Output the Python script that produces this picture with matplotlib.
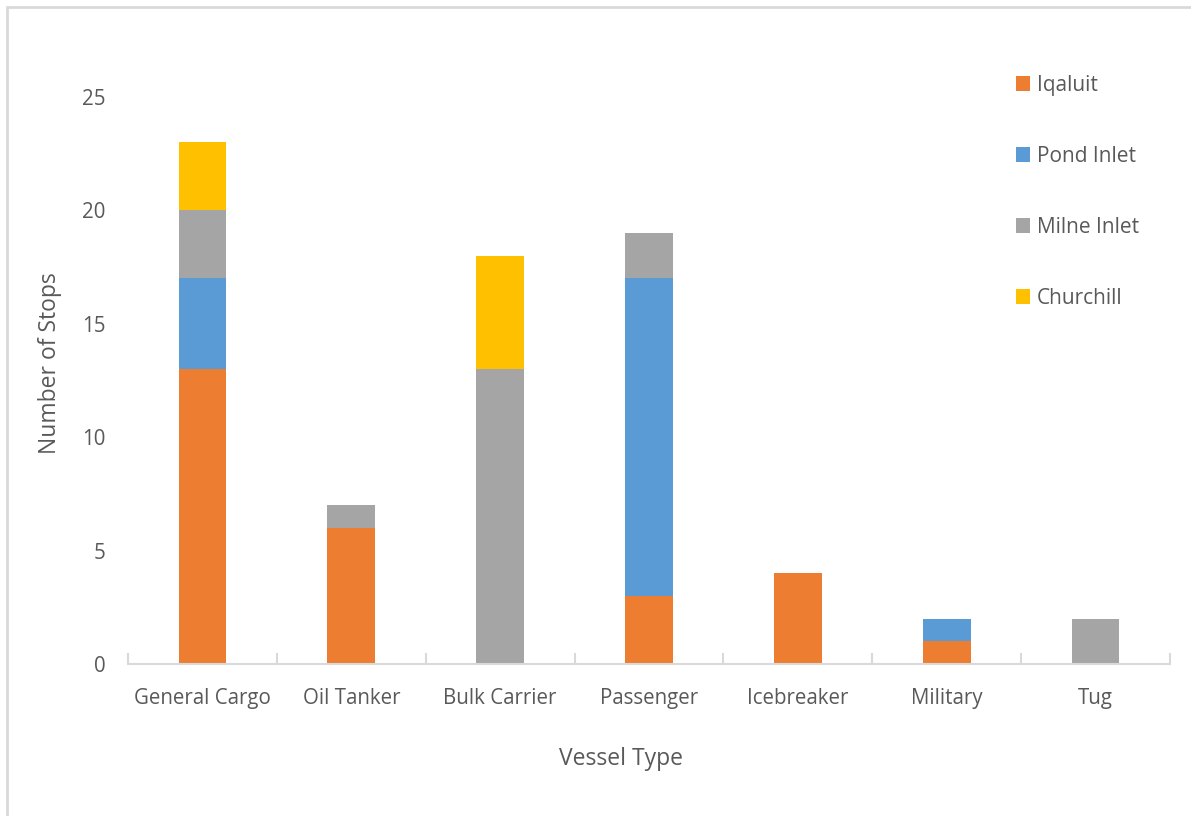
import matplotlib.pyplot as plt
import numpy as np
from matplotlib.patches import Rectangle

vessel_types = ["General Cargo", "Oil Tanker", "Bulk Carrier", "Passenger",
                "Icebreaker", "Military", "Tug"]
iqaluit = [13, 6, 0, 3, 4, 1, 0]
pond_inlet = [4, 0, 0, 14, 0, 1, 0]
milne_inlet = [3, 1, 13, 2, 0, 0, 2]
churchill = [3, 0, 5, 0, 0, 0, 0]

series = [
    ("Iqaluit", iqaluit, "#ed7d31"),
    ("Pond Inlet", pond_inlet, "#5b9bd5"),
    ("Milne Inlet", milne_inlet, "#a5a5a5"),
    ("Churchill", churchill, "#ffc000"),
]

plt.rcParams["font.family"] = ["Open Sans", "DejaVu Sans"]
text_col = "#595959"
axis_col = "#d9d9d9"
W, H = 1191, 816

fig = plt.figure(figsize=(W / 100, H / 100), dpi=100)
ax = fig.add_axes([128 / W, 1 - 664 / H, (1170 - 128) / W, (664 - 97) / H])

# chart border (top and left visible)
fig.add_artist(Rectangle((7 / W, -0.1), 1.2, 1 - 7 / H + 0.1, transform=fig.transFigure,
                         fill=False, edgecolor=axis_col, linewidth=2))

x = np.arange(len(vessel_types))
bottom = np.zeros(len(vessel_types))
for name, vals, col in series:
    vals = np.array(vals, dtype=float)
    ax.bar(x, vals, width=0.32, bottom=bottom, color=col, label=name, linewidth=0)
    bottom += vals

ax.set_xlim(-0.5, len(vessel_types) - 0.5)
ax.set_ylim(0, 25)
ax.set_yticks([0, 5, 10, 15, 20, 25])

for s in ["top", "right", "left"]:
    ax.spines[s].set_visible(False)
ax.spines["bottom"].set_color(axis_col)
ax.spines["bottom"].set_linewidth(1.5)

ax.set_xticks(x)
ax.set_xticklabels(vessel_types)
ax.set_xticks(np.arange(-0.5, len(vessel_types)), minor=True)
ax.tick_params(axis="x", which="major", length=0, pad=17, labelsize=14.8, labelcolor=text_col)
ax.tick_params(axis="x", which="minor", length=8, width=1.5, color=axis_col, direction="in")
ax.tick_params(axis="y", length=0, pad=16, labelsize=14.8, labelcolor=text_col)

fig.text(621 / W, 1 - 759 / H, "Vessel Type", fontsize=16.5, color=text_col,
         ha="center", va="center")
fig.text(50 / W, 1 - 363 / H, "Number of Stops", fontsize=16.5, color=text_col,
         ha="center", va="center", rotation=90)

leg = ax.legend(loc="upper left", bbox_to_anchor=(997 / W, 1 - 56 / H),
                bbox_transform=fig.transFigure, frameon=False, fontsize=15,
                handlelength=0.7, handleheight=0.7, handletextpad=0.3,
                labelspacing=2.4)
for t in leg.get_texts():
    t.set_color(text_col)

fig.savefig("out.png", dpi=100, facecolor="white")
